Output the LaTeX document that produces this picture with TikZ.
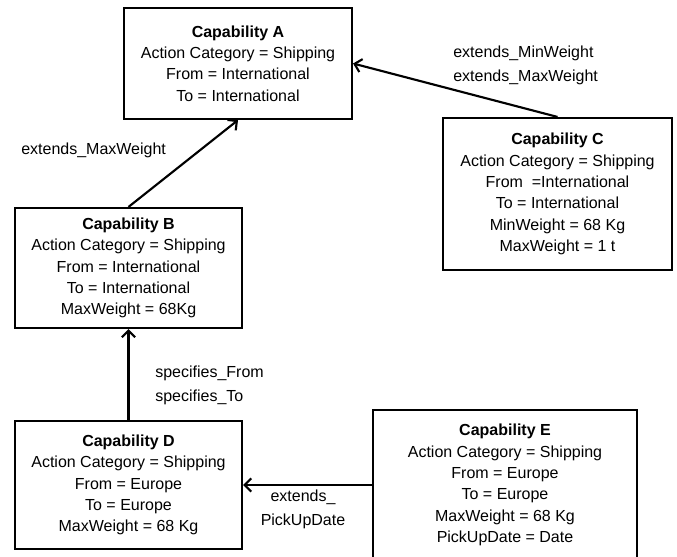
\documentclass[tikz,border=0pt]{standalone}
\usepackage{fontspec}
\setmainfont{Liberation Sans}
\usetikzlibrary{arrows.meta}
\tikzset{
  capbox/.style={draw, line width=1.6pt, align=center, inner sep=0pt,
    font=\fontsize{12}{16}\selectfont},
  rel/.style={inner sep=0pt, font=\fontsize{12}{18}\selectfont},
  link/.style={line width=1.6pt, -{Straight Barb[length=5pt,width=10pt]}}
}
\begin{document}
\begin{tikzpicture}[x=0.75pt,y=-0.75pt]
  \useasboundingbox (0,0) rectangle (677,556);
  \draw
    (238,63.5) node[capbox, minimum width=171pt, minimum height=83.25pt] (A)
      {\textbf{Capability A}\\Action Category = Shipping\\From = International\\To = International}
    (128.5,268) node[capbox, minimum width=170.25pt, minimum height=90pt] (B)
      {\textbf{Capability B}\\Action Category = Shipping\\From = International\\To = International\\MaxWeight = 68Kg}
    (557.5,194) node[capbox, minimum width=171.75pt, minimum height=114pt] (C)
      {\textbf{Capability C}\\Action Category = Shipping\\From \ =International\\To = International\\MinWeight = 68 Kg\\MaxWeight = 1 t}
    (128.5,485) node[capbox, minimum width=170.25pt, minimum height=96pt] (D)
      {\textbf{Capability D}\\Action Category = Shipping\\From = Europe\\To = Europe\\MaxWeight = 68 Kg}
    (505,485) node[capbox, minimum width=198pt, minimum height=112.5pt] (E)
      {\textbf{Capability E}\\Action Category = Shipping\\From = Europe\\To = Europe\\MaxWeight = 68 Kg\\PickUpDate = Date};
  % relation labels
  \node[rel, align=left, anchor=west] (lc) at (453,65) {extends\_MinWeight\\extends\_MaxWeight};
  \node[rel, anchor=west] (lb) at (21,150) {extends\_MaxWeight};
  \node[rel, align=left, anchor=west] (ld) at (155,385.5) {specifies\_From\\specifies\_To};
  \node[rel, align=center] (le) at (303,509.5) {extends\_\\PickUpDate};
  \begin{scope}[link]
    \draw (B.north) to (A.south);
    \draw (C.north) to (A.east);
    \draw (D.north) to (B.south);
    \draw (E.west) to (D.east);
  \end{scope}
\end{tikzpicture}
\end{document}
